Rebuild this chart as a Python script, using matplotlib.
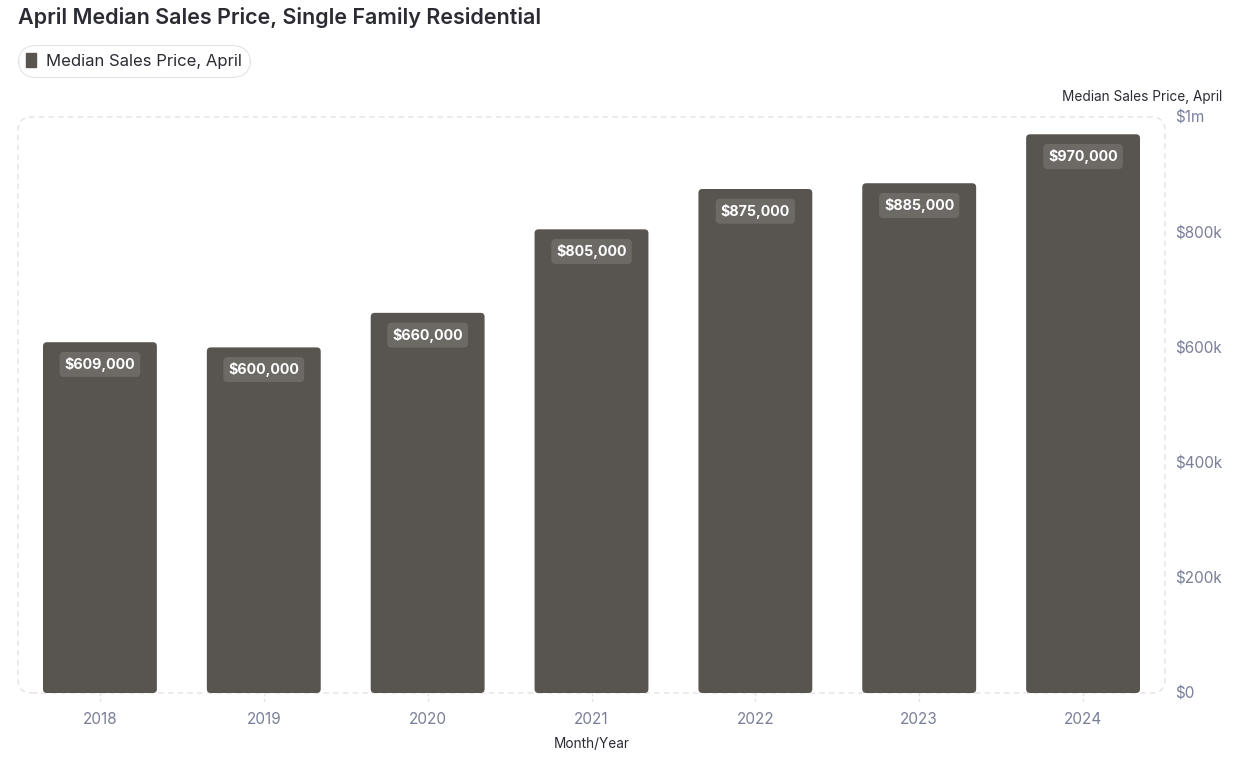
import matplotlib.pyplot as plt
from matplotlib.patches import FancyBboxPatch
from matplotlib.lines import Line2D

plt.rcParams['font.family'] = ['Inter', 'DejaVu Sans']

# Data
years = ["2018", "2019", "2020", "2021", "2022", "2023", "2024"]
prices = [609000, 600000, 660000, 805000, 875000, 885000, 970000]
ytick_vals = [0, 200000, 400000, 600000, 800000, 1000000]
ytick_labels = ["$0", "$200k", "$400k", "$600k", "$800k", "$1m"]

bar_color = "#58544f"
label_bg = "#6d6964"
tick_color = "#7a7f99"
dark = "#2b2b33"

W, H = 1241, 761
fig = plt.figure(figsize=(W / 100, H / 100), dpi=100)
ax = fig.add_axes([18 / W, 1 - 693 / H, (1165 - 18) / W, (693 - 117) / H])

x = list(range(len(years)))
bars = ax.bar(x, prices, width=0.695, color=bar_color)
ax.set_xlim(-0.5, len(years) - 0.5)
ax.set_ylim(0, 1000000)

# swap plain bars for rounded ones
px_x = (1165 - 18) / len(years)
px_y = (693 - 117) / 1000000
for b in bars:
    b.set_visible(False)
    r = FancyBboxPatch((b.get_x(), 0), b.get_width(), b.get_height(),
                       boxstyle="round,pad=0,rounding_size=%f" % (4 / px_x),
                       mutation_aspect=px_x / px_y,
                       facecolor=bar_color, edgecolor="none", zorder=2)
    ax.add_patch(r)

for xi, v in zip(x, prices):
    ax.annotate("${:,.0f}".format(v), (xi, v), xytext=(0, -16), textcoords="offset points",
                ha="center", va="center", color="white", fontsize=10.3, fontweight="bold",
                bbox=dict(boxstyle="round,pad=0.35,rounding_size=0.3", fc=label_bg, ec="none"),
                zorder=3)

for s in ax.spines.values():
    s.set_visible(False)

# dashed rounded frame
frame = FancyBboxPatch((0, 0), 1, 1, transform=ax.transAxes,
                       boxstyle="round,pad=0,rounding_size=0.012",
                       mutation_aspect=(1165 - 18) / (693 - 117),
                       fill=False, edgecolor="#e3e3e6", linestyle=(0, (4, 3)),
                       linewidth=1, clip_on=False, zorder=0)
ax.add_patch(frame)

ax.set_xticks(x)
ax.set_xticklabels(years, fontsize=11, color=tick_color)
ax.tick_params(axis="x", length=0, pad=14)
ax.yaxis.tick_right()
ax.set_yticks(ytick_vals)
ax.set_yticklabels(ytick_labels, fontsize=11, color=tick_color)
ax.tick_params(axis="y", length=0, pad=7)

# small dashed ticks under each bar
for xi in x:
    ax.add_line(Line2D([xi, xi], [0, -18000], color="#e3e3e6", linestyle=(0, (2, 2)),
                       linewidth=1, clip_on=False))

ax.set_xlabel("Month/Year", fontsize=9.8, color=dark, labelpad=7)

fig.text(18 / W, 1 - 17 / H, "April Median Sales Price, Single Family Residential",
         fontsize=15.5, color=dark, va="center", ha="left", fontweight="semibold")
fig.text(1222 / W, 1 - 97 / H, "Median Sales Price, April", fontsize=9.8, color=dark,
         va="center", ha="right")

leg = fig.legend([bars[0]], ["Median Sales Price, April"], loc="upper left",
                 bbox_to_anchor=(18 / W, 1 - 45 / H), fontsize=12, frameon=True,
                 handlelength=0.55, handleheight=0.9, handletextpad=0.6,
                 borderpad=0.5, borderaxespad=0)
leg.legend_handles[0].set_visible(True)
leg.legend_handles[0].set_color(bar_color)
fr = leg.get_frame()
fr.set_boxstyle("round,pad=0,rounding_size=1.1")
fr.set_edgecolor("#dcdce0")
fr.set_linewidth(0.8)
for t in leg.get_texts():
    t.set_color(dark)

fig.savefig("out.png", dpi=100, facecolor="white")
